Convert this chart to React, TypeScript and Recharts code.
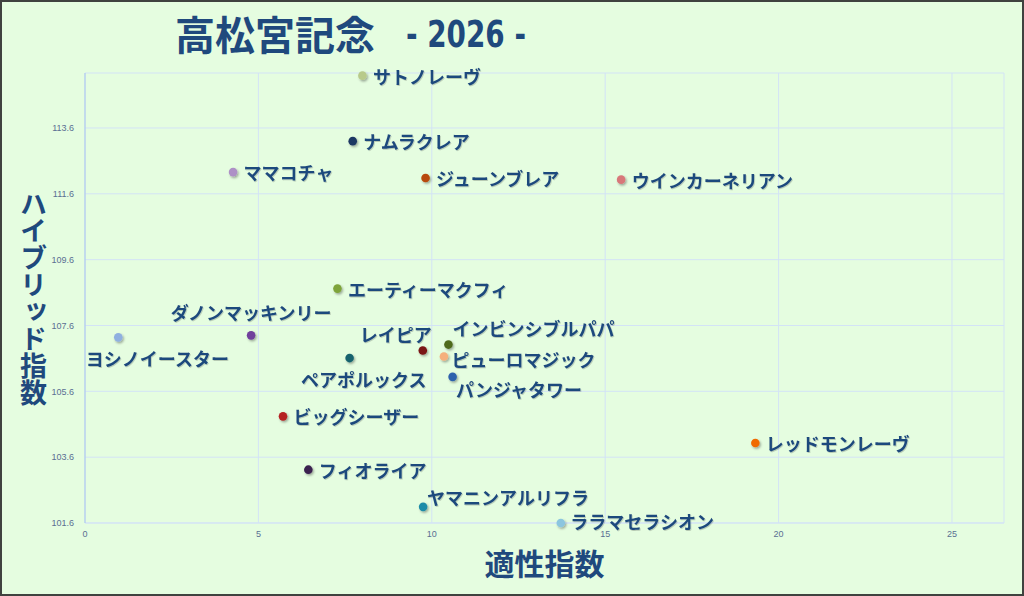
import React from 'react';
import { ScatterChart, Scatter, XAxis, YAxis, CartesianGrid, Customized } from 'recharts';

// ---- data ----
const horseNames = [
  'サトノレーヴ',
  'ナムラクレア',
  'ママコチャ',
  'ジューンブレア',
  'ウインカーネリアン',
  'エーティーマクフィ',
  'ダノンマッキンリー',
  'ヨシノイースター',
  'レイピア',
  'インビンシブルパパ',
  'ペアポルックス',
  'ピューロマジック',
  'パンジャタワー',
  'ビッグシーザー',
  'レッドモンレーヴ',
  'フィオライア',
  'ヤマニンアルリフラ',
  'ララマセラシオン',
];

// 適性指数 (x)
const aptitudeIndex = [8.0, 7.72, 4.27, 9.82, 15.46, 7.28, 4.79, 0.96, 9.74, 10.48, 7.63, 10.35, 10.6, 5.71, 19.33, 6.44, 9.75, 13.72];

// ハイブリッド指数 (y)
const hybridIndex = [115.19, 113.2, 112.26, 112.08, 112.03, 108.72, 107.3, 107.24, 106.84, 107.02, 106.61, 106.66, 106.04, 104.84, 104.03, 103.22, 102.09, 101.6];

const pointColors = [
  '#b8ca8a', '#1f3864', '#ad90c6', '#b84a08', '#d8787a', '#7ea43a',
  '#6f3f9c', '#8fb0e0', '#7a1212', '#4f6a1e', '#17646e', '#f5b07d',
  '#2e62ad', '#b52424', '#f06a00', '#3b2150', '#1f8ca8', '#8cc6df',
];

const xTicks = [0, 5, 10, 15, 20, 25];
const yTicks = [101.6, 103.6, 105.6, 107.6, 109.6, 111.6, 113.6];

const titleText = '高松宮記念';
const titleYear = '- 2026 -';
const xAxisTitle = '適性指数';
const yAxisTitle = 'ハイブリッド指数';

const data = horseNames.map((name, i) => ({
  name,
  x: aptitudeIndex[i],
  y: hybridIndex[i],
  color: pointColors[i],
}));

// ---- label layout (style, not data) ----
type Placement = { anchor: 'start' | 'middle' | 'end'; dx: number; dy: number };
const defaultPlacement: Placement = { anchor: 'start', dx: 10.5, dy: 0 };
const labelPlacement: Record<string, Placement> = {
  'ダノンマッキンリー': { anchor: 'middle', dx: 0, dy: -23 },
  'ヨシノイースター': { anchor: 'start', dx: -32.5, dy: 20.5 },
  'レイピア': { anchor: 'end', dx: 9, dy: -17 },
  'インビンシブルパパ': { anchor: 'start', dx: 4, dy: -16.5 },
  'ペアポルックス': { anchor: 'start', dx: -48.5, dy: 20.5 },
  'ピューロマジック': { anchor: 'start', dx: 7.5, dy: 3 },
  'パンジャタワー': { anchor: 'start', dx: 3.5, dy: 12 },
  'ヤマニンアルリフラ': { anchor: 'start', dx: 4, dy: -10 },
  'ララマセラシオン': { anchor: 'start', dx: 9.5, dy: -2 },
};

const NAVY = '#1f497d';
const JP_FONT = '"Noto Sans CJK JP", "Noto Sans", sans-serif';
const BG = '#e5fde0';

const PointShape = (props: any) => {
  const { cx, cy, payload } = props;
  if (cx == null || cy == null) return null;
  return <circle cx={cx} cy={cy} r={4.3} fill={payload.color} filter="url(#ptShadow)" />;
};

const LabelShape = (props: any) => {
  const { cx, cy, payload } = props;
  if (cx == null || cy == null) return null;
  const p = labelPlacement[payload.name] ?? defaultPlacement;
  return (
    <text
      x={cx + p.dx}
      y={cy + p.dy}
      textAnchor={p.anchor}
      dominantBaseline="central"
      fontSize={18}
      fontWeight={700}
      fontFamily={JP_FONT}
      fill={NAVY}
      filter="url(#txtShadow)"
    >
      {payload.name}
    </text>
  );
};

const Titles = () => (
  <g>
    <defs>
      <filter id="ptShadow" x="-100%" y="-100%" width="300%" height="300%">
        <feDropShadow dx="1.2" dy="1.5" stdDeviation="0.9" floodColor="#000" floodOpacity="0.35" />
      </filter>
      <filter id="txtShadow" x="-10%" y="-30%" width="120%" height="160%">
        <feDropShadow dx="0.8" dy="1" stdDeviation="0.6" floodColor="#000" floodOpacity="0.2" />
      </filter>
    </defs>
    <text
      x={175}
      y={33}
      dominantBaseline="central"
      fontSize={40}
      fontWeight={700}
      fontFamily={JP_FONT}
      fill={NAVY}
    >
      {titleText}
    </text>
    <text
      x={406}
      y={34}
      dominantBaseline="central"
      fontSize={38}
      fontWeight={700}
      fontFamily='"DejaVu Sans Condensed", "DejaVu Sans", sans-serif'
      fill={NAVY}
      textLength={120}
      lengthAdjust="spacingAndGlyphs"
    >
      {titleYear}
    </text>
    <text
      x={544.5}
      y={562}
      textAnchor="middle"
      dominantBaseline="central"
      fontSize={30}
      fontWeight={700}
      fontFamily={JP_FONT}
      fill={NAVY}
    >
      {xAxisTitle}
    </text>
    <text
      x={33.5}
      y={298.5}
      textAnchor="middle"
      fontSize={27}
      fontWeight={700}
      fontFamily={JP_FONT}
      fill={NAVY}
      style={{ writingMode: 'vertical-rl', textOrientation: 'upright' } as any}
    >
      {yAxisTitle}
    </text>
  </g>
);

export default function App() {
  return (
    <div style={{ position: 'absolute', left: 0, top: 0, width: 1024, height: 596, background: BG }}>
      <ScatterChart width={1024} height={596} margin={{ top: 73, right: 20, bottom: 43, left: 0 }}>
        <CartesianGrid stroke="#d3e3f6" strokeWidth={1} />
        <XAxis
          type="number"
          dataKey="x"
          domain={[0, 26.5]}
          ticks={xTicks}
          height={30}
          tickLine={false}
          axisLine={{ stroke: '#d3e3f6' }}
          tick={{ fontSize: 9, fill: '#5a6f93', fontFamily: 'Liberation Sans, Arial, sans-serif' }}
          interval={0}
        />
        <YAxis
          type="number"
          dataKey="y"
          domain={[101.6, 115.27]}
          ticks={yTicks}
          width={85}
          tickLine={false}
          tickMargin={5}
          axisLine={{ stroke: '#a9c6ec' }}
          tick={{ fontSize: 9, fill: '#5a6f93', fontFamily: 'Liberation Sans, Arial, sans-serif' }}
          interval={0}
          tickFormatter={(v: number) => v.toFixed(1)}
        />
        <Scatter data={data} shape={PointShape} isAnimationActive={false} />
        <Scatter data={data} shape={LabelShape} isAnimationActive={false} />
        <Customized component={<Titles />} />
      </ScatterChart>
      <div
        style={{
          position: 'absolute',
          left: 0,
          top: 0,
          width: 1024,
          height: 596,
          border: '2px solid #3f423f',
          boxSizing: 'border-box',
          pointerEvents: 'none',
        }}
      />
    </div>
  );
}
